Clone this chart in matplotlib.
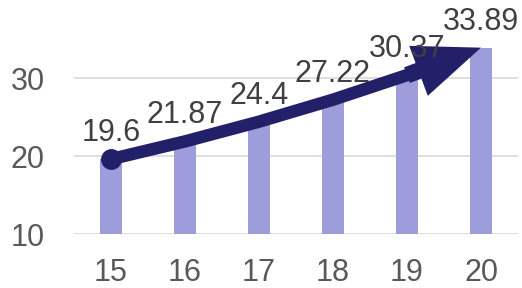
import matplotlib.pyplot as plt
from matplotlib.patches import FancyArrowPatch

years = ['15', '16', '17', '18', '19', '20']
values = [19.6, 21.87, 24.4, 27.22, 30.37, 33.89]
labels = ['19.6', '21.87', '24.4', '27.22', '30.37', '33.89']

bar_color = '#9d9ddc'
line_color = '#23206a'
text_color = '#595959'

plt.rcParams['font.family'] = ['Liberation Sans', 'DejaVu Sans']

fig = plt.figure(figsize=(5.22, 2.88), dpi=100)
ax = fig.add_axes([74/522, 1-234/288, 444/522, 234/288])

x = list(range(len(years)))
ax.bar(x, values, width=0.3, color=bar_color, zorder=2)

# trend line with arrow head on the last segment
ax.plot(x[:-1], values[:-1], color=line_color, lw=9, solid_capstyle='round',
        solid_joinstyle='round', zorder=3)
ax.plot(x[0], values[0], 'o', color=line_color, ms=14, zorder=3)
arr = FancyArrowPatch((x[-2], values[-2]), (x[-1], values[-1]),
                      arrowstyle='simple,tail_width=1.0,head_width=3.2,head_length=4.0',
                      mutation_scale=12, color=line_color, lw=0,
                      shrinkA=0, shrinkB=0, zorder=4)
ax.add_patch(arr)

for xi, v, lab in zip(x, values, labels):
    ax.annotate(lab, (xi, v), xytext=(0, 8), textcoords='offset points',
                ha='center', va='bottom', fontsize=22, color='#404040',
                zorder=5, annotation_clip=False)

ax.set_xlim(-0.5, 5.5)
ax.set_ylim(10, 40)
ax.set_yticks([10, 20, 30])
ax.set_xticks(x)
ax.set_xticklabels(years)
ax.grid(axis='y', color='#d9d9d9', lw=1.2, zorder=0)
ax.set_axisbelow(True)
for s in ax.spines.values():
    s.set_visible(False)
ax.tick_params(axis='both', length=0, labelsize=22, labelcolor=text_color)
ax.tick_params(axis='y', pad=21)
ax.tick_params(axis='x', pad=17)

fig.savefig('out.png', dpi=100)
